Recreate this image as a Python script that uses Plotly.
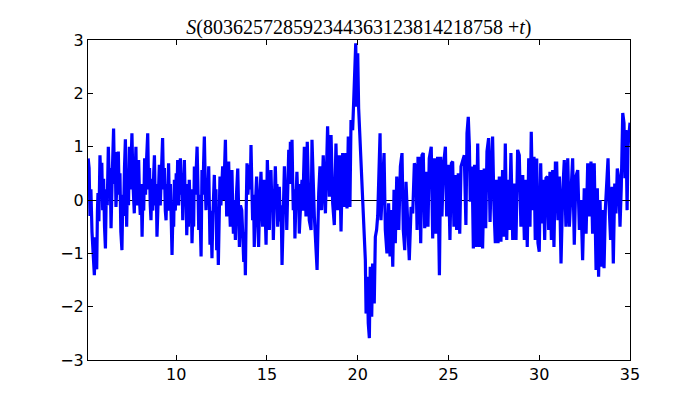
import plotly.graph_objects as go

t = [5.15, 5.20, 5.25, 5.30, 5.36, 5.42, 5.49, 5.55, 5.62, 5.66, 5.69, 5.74, 5.80, 5.85, 5.90, 5.95, 6.00, 6.05, 6.10, 6.15,
     6.20, 6.26, 6.32, 6.36, 6.41, 6.47, 6.55, 6.60, 6.64, 6.68, 6.74, 6.81, 6.86, 6.90, 6.95, 7.01, 7.06, 7.10, 7.15, 7.20,
     7.27, 7.32, 7.37, 7.42, 7.47, 7.52, 7.56, 7.62, 7.69, 7.74, 7.78, 7.83, 7.88, 7.93, 7.98, 8.02, 8.07, 8.12, 8.17, 8.21,
     8.26, 8.31, 8.36, 8.43, 8.48, 8.53, 8.57, 8.61, 8.66, 8.71, 8.76, 8.80, 8.85, 8.90, 8.94, 9.00, 9.07, 9.12, 9.18, 9.25,
     9.30, 9.35, 9.40, 9.44, 9.49, 9.53, 9.58, 9.63, 9.68, 9.73, 9.77, 9.82, 9.86, 9.90, 9.95, 10.00, 10.04, 10.08, 10.13, 10.18,
     10.23, 10.28, 10.32, 10.36, 10.40, 10.45, 10.50, 10.54, 10.58, 10.63, 10.67, 10.72, 10.77, 10.82, 10.87, 10.92, 10.96, 11.00,
     11.05, 11.10, 11.15,
     11.20, 11.24, 11.29, 11.33, 11.37, 11.42, 11.47, 11.51, 11.55, 11.60, 11.64, 11.69, 11.74, 11.79, 11.83, 11.86, 11.91, 11.97,
     12.02, 12.06, 12.10, 12.15, 12.19, 12.23, 12.28, 12.32, 12.37, 12.41, 12.46, 12.51, 12.56, 12.61, 12.66, 12.71, 12.75, 12.78,
     12.84, 12.89, 12.94, 12.98, 13.03, 13.07, 13.11, 13.15, 13.20, 13.26, 13.32, 13.39, 13.44, 13.48, 13.54, 13.61, 13.66, 13.72,
     13.77, 13.81, 13.86, 13.90, 13.95, 13.99, 14.03, 14.08, 14.12, 14.17, 14.21, 14.26, 14.30, 14.35, 14.39, 14.43, 14.48, 14.54,
     14.59, 14.63, 14.67, 14.72, 14.76, 14.80, 14.85, 14.90, 14.95, 15.02, 15.07, 15.13, 15.17, 15.22, 15.27, 15.31, 15.35, 15.40,
     15.46, 15.51, 15.55, 15.59, 15.64, 15.68, 15.73, 15.78, 15.83, 15.88, 15.92, 15.96, 16.01, 16.05, 16.09, 16.14, 16.20, 16.25,
     16.29, 16.33, 16.38, 16.42, 16.45, 16.50, 16.54, 16.59, 16.65, 16.70, 16.74, 16.78, 16.83, 16.88, 16.93, 16.98, 17.02, 17.06,
     17.10, 17.15, 17.22,
     17.33, 17.43, 17.48, 17.61, 17.70, 17.76, 17.85, 17.92, 18.01, 18.10, 18.22, 18.29, 18.34, 18.44, 18.53, 18.62, 18.71, 18.80,
     18.89, 18.99, 19.08, 19.17, 19.26, 19.35, 19.41, 19.48, 19.57, 19.63, 19.72, 19.78, 19.83, 19.89, 19.94, 20.00, 20.05, 20.42,
     20.46, 20.53, 20.58, 20.64, 20.69, 20.77, 20.82, 20.91, 20.97, 21.04, 21.10, 21.15, 21.23, 21.28, 21.37, 21.45, 21.52, 21.61,
     21.70, 21.78, 21.85, 21.93, 22.00, 22.07, 22.15, 22.26, 22.35, 22.44, 22.51, 22.59, 22.66, 22.75, 22.84, 22.94, 23.03, 23.12,
     23.21, 23.27, 23.32,
     23.39, 23.47, 23.54, 23.61, 23.69, 23.80, 23.87, 23.94, 24.05, 24.13, 24.22, 24.31, 24.40, 24.46, 24.50, 24.57, 24.64, 24.72,
     24.83, 24.90, 24.99, 25.08, 25.16, 25.23, 25.30, 25.38, 25.45, 25.54, 25.62, 25.69, 25.78, 25.87, 25.96, 26.02, 26.09, 26.15,
     26.20, 26.30, 26.37, 26.44, 26.52, 26.61, 26.70, 26.79, 26.88, 26.97, 27.05, 27.12, 27.21, 27.29, 27.36, 27.43, 27.51, 27.58,
     27.65, 27.73, 27.80, 27.89, 27.98, 28.06, 28.13, 28.21, 28.28, 28.35, 28.44, 28.54, 28.63, 28.72, 28.81, 28.90, 28.99, 29.09,
     29.18, 29.27, 29.34,
     29.42, 29.49, 29.56, 29.64, 29.71, 29.78, 29.86, 29.93, 30.00, 30.08, 30.15, 30.22, 30.30, 30.37, 30.45, 30.52, 30.59, 30.67,
     30.74, 30.81, 30.89, 30.96, 31.03, 31.11, 31.20, 31.29, 31.38, 31.47, 31.57, 31.66, 31.75, 31.84, 31.93, 32.02, 32.12, 32.21,
     32.30, 32.39, 32.48, 32.58, 32.67, 32.76, 32.85, 32.94, 33.03, 33.13, 33.20, 33.27, 33.35, 33.42, 33.49, 33.57, 33.64, 33.71,
     33.79, 33.86, 33.93, 34.01, 34.08, 34.16, 34.23, 34.30, 34.38, 34.45, 34.52, 34.60, 34.67, 34.72, 34.78, 34.84, 34.89, 34.95,
     35.00]

s = [0.78, 0.60, -0.30, 0.20, -0.60, -0.90, -1.41, -0.70, -1.30, -0.20, 0.13, -0.40, 0.84, 0.30, 0.70, -0.19, 0.40, -0.50, -0.91, 0.20,
     -0.10, 1.00, 0.20, 0.60, -0.53, 0.40, 1.34, 0.30, 0.90, -0.13, 0.50, 0.91, 0.10, 0.50, -0.60, -0.94, 0.10, -0.30, 0.60, 1.14,
     -0.50, 0.50, -0.10, 1.00, 0.20, 0.80, 1.25, 0.30, -0.25, 0.50, 1.00, -0.10, 0.40, 0.75, 0.00, -0.28, 0.30, -0.69, 0.20, -0.20,
     0.78, 0.10, 0.70, 1.25, 0.20, 0.60, -0.10, -0.38, 0.40, -0.20, 0.50, 0.84, -0.10, 0.30, -0.69, 0.20, 0.66, -0.10, 0.50, 1.16,
     0.20, 0.60, -0.20, -0.38, 0.30, -0.10, 0.69, -0.20, 0.30, -0.60, -1.03, -0.20, -0.50, 0.38, -0.20, 0.50, 0.10, 0.75, -0.10, 0.40,
     0.78, 0.10, 0.50, -0.38, 0.20, 0.75, -0.10, 0.30, -0.66, -0.10, -0.50, 0.38, -0.20, 0.20, -0.81, -0.20, -0.50, 0.63,
     0.10, 0.50, 1.00,
     0.20, -0.56, 0.10, -0.40, -1.06, 0.56, 0.10, 0.70, 1.19, 0.30, -0.19, 0.40, 0.00, 0.63, 0.10, -0.84, -0.20, -1.09,
     -0.30, 0.20, 0.47, -0.20, 0.20, -0.94, -0.40, -1.22, -0.30, 0.44, -0.10, 0.30, 0.63, 0.00, 0.50, 1.13, 0.30, -0.31,
     0.30, 0.72, -0.10, -0.50, 0.10, 0.56, -0.10, -0.63, 0.00, -0.75, 0.10, 0.59, -0.20, -0.88, -0.10, -0.19, -0.60, -1.16,
     -0.60, -1.41, -0.10, 0.69, 0.10, 0.50, 0.66, 0.20, 1.03, 0.20, -0.38, 0.10, -0.88, -0.20, 0.20, 0.44, -0.20, -0.88,
     -0.10, 0.20, 0.53, -0.10, -0.50, 0.10, 0.38, -0.20, -0.84, 0.75, 0.10, -0.56, 0.10, 0.56, -0.10, 0.20, -0.75, 0.00,
     0.63, 0.00, 0.30, -0.50, 0.00, 0.25, -0.40, -0.10, -1.22, -0.30, 0.20, 0.63, 0.00, 0.30, -0.56, 0.20, 0.94, 0.30,
     1.09, 0.40, 1.13, 0.30, -0.19, 0.20, -0.72, -0.10, 0.53, 0.00, 0.30, -0.63, -0.10, 0.10, 0.38, -0.20, 0.50, 1.00,
     0.30, -0.31, 1.09,
     -0.38, -0.56, 1.13, -0.31, -0.88, -1.31, 0.13, 0.63, -0.19, 0.84, -0.25, 0.69, 1.38, 0.06, 1.22, -0.06, -0.47, 1.06,
     -0.19, 0.84, -0.59, 0.88, -0.13, 0.88, -0.16, 1.19, -0.13, 1.50, 1.31, 1.88, 2.31, 2.94, 1.75, 2.75, 1.72, -1.13,
     -2.13, -1.44, -2.31, -2.59, -1.25, -2.19, -1.19, -1.94, -0.69, -0.56, -0.30, 0.44, 1.25, -0.38, 0.38, 0.88, -0.56, -1.00,
     -0.06, -1.06, -0.19, -1.25, 0.19, -0.81, 0.44, -0.56, 0.63, 0.88, -0.56, -0.94, 0.34, -0.56, -1.13, -0.13, -0.25, 0.69,
     0.56, -0.56, 0.78,
     0.78, -0.81, 0.84, 0.88, -0.53, 0.53, -0.50, 0.78, 1.00, -0.72, 0.78, -0.63, 0.81, -0.94, -1.41, 0.81, -0.31, 0.63,
     1.00, -0.31, 0.66, -0.75, 0.69, 0.72, -0.50, 0.47, -0.56, 0.50, -0.63, 0.63, 0.75, 0.84, -0.47, 1.25, 1.56, 1.03,
     -0.03, 0.63, -0.91, 0.66, -0.88, 1.06, -0.88, 0.56, -0.91, 0.59, -0.53, 0.91, 1.16, -0.41, 0.56, 1.19, -0.19, -0.81,
     0.38, -0.81, 0.44, -0.78, 0.56, -0.69, 1.06, -0.75, 0.38, -0.56, 0.88, -0.75, 0.31, -0.75, 0.94, 0.84, -0.50, 0.47,
     -0.75, 0.38, -0.88,
     0.78, -0.50, 1.28, -0.19, 0.81, -0.75, 0.78, -0.81, -0.97, 0.69, -0.44, 0.38, -0.75, 0.41, 0.44, -0.56, 0.53, -0.75,
     0.56, -0.88, 0.69, 0.69, -0.38, 0.44, -1.19, 0.13, 0.75, -0.50, 0.78, -0.50, 0.22, 0.78, -0.84, 0.44, 0.56, -0.56,
     0.00, -1.13, 0.22, -0.63, 0.69, -0.31, 0.72, -0.63, 0.69, -1.31, 0.22, -1.44, 0.00, -1.25, -0.19, -1.28, -0.19, 0.44,
     0.78, -0.19, -0.75, 0.25, -1.19, 0.31, -0.25, 0.59, 0.41, -0.50, 0.25, 1.63, 1.44, 0.41, 1.31, -0.19, 1.00, 1.25,
     1.45]

x_range = [5.14, 35]
y_range = [-3, 3]
x_ticks = [10, 15, 20, 25, 30, 35]
y_ticks = [-3, -2, -1, 0, 1, 2, 3]
title_html = "<i>S</i>(803625728592344363123814218758 +<i>t</i>)"

fig = go.Figure()
fig.add_trace(go.Scatter(x=t, y=s, mode="lines",
                         line=dict(color="#0000ff", width=3.2), showlegend=False))

axis_common = dict(showgrid=False, showline=True, linecolor="black", linewidth=1,
                   mirror="ticks", ticks="inside", ticklen=5, tickcolor="black",
                   tickfont=dict(family="DejaVu Sans", size=16, color="black"))

fig.update_xaxes(range=x_range, tickvals=x_ticks, zeroline=False, **axis_common)
fig.update_yaxes(range=y_range, tickvals=y_ticks, zeroline=True, zerolinecolor="black",
                 zerolinewidth=1, **axis_common)

fig.update_layout(
    width=692, height=392,
    margin=dict(l=80, r=70, t=32, b=40),
    paper_bgcolor="white", plot_bgcolor="white",
    title=dict(text=title_html, x=0.507, xanchor="center", y=0.951, yanchor="middle",
               font=dict(family="Liberation Serif", size=20, color="black")),
)

fig.write_html("out.html")
